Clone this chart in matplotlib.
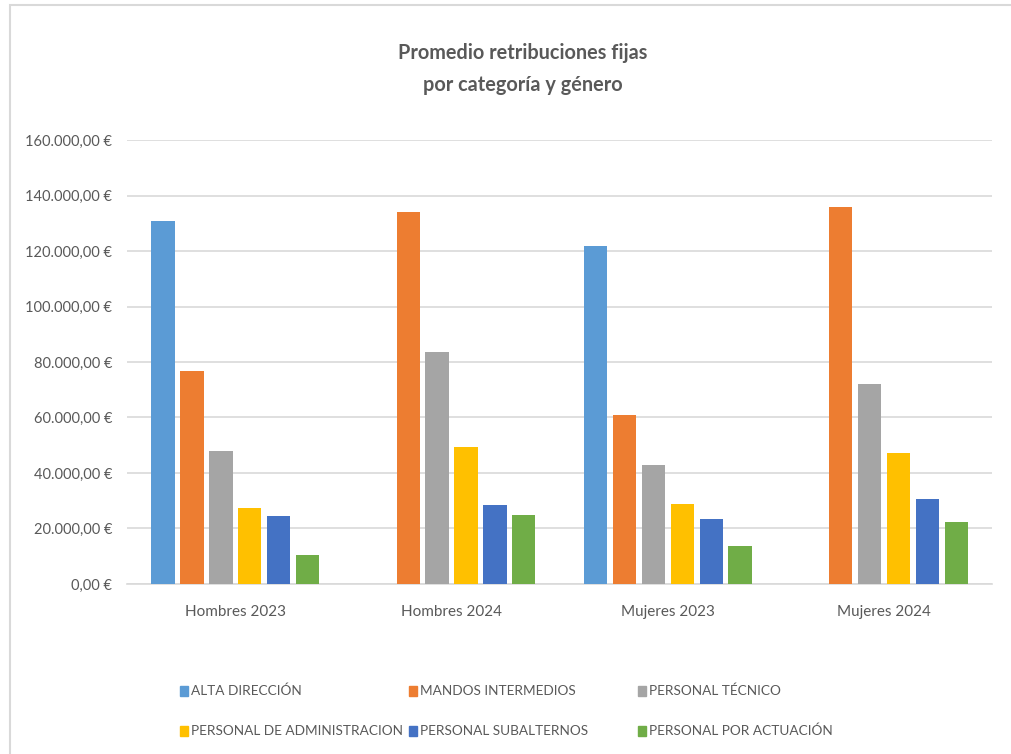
import numpy as np
import matplotlib
matplotlib.use("Agg")
import matplotlib.pyplot as plt
from matplotlib.ticker import FuncFormatter
from matplotlib.patches import Rectangle

plt.rcParams['font.family'] = ['Lato', 'DejaVu Sans']

grupos = ["Hombres 2023", "Hombres 2024", "Mujeres 2023", "Mujeres 2024"]
categorias = ["ALTA DIRECCIÓN", "MANDOS INTERMEDIOS", "PERSONAL TÉCNICO",
              "PERSONAL DE ADMINISTRACION", "PERSONAL SUBALTERNOS",
              "PERSONAL POR ACTUACIÓN"]
colores = ["#5B9BD5", "#ED7D31", "#A5A5A5", "#FFC000", "#4472C4", "#70AD47"]

# valores por categoria (nan = sin dato)
alta_direccion = [130800, np.nan, 121800, np.nan]
mandos_intermedios = [76800, 134100, 60900, 135900]
personal_tecnico = [47900, 83600, 42900, 72100]
personal_admin = [27500, 49400, 28800, 47200]
personal_subalternos = [24500, 28500, 23400, 30600]
personal_actuacion = [10500, 24900, 13700, 22300]

series = [alta_direccion, mandos_intermedios, personal_tecnico,
          personal_admin, personal_subalternos, personal_actuacion]

fig = plt.figure(figsize=(10.11, 7.54), dpi=100)
ax = fig.add_axes([0.126, 0.2255, 0.855, 0.5888])

x = np.arange(len(grupos))
paso = 0.134
ancho = 0.107
for i, (vals, col, nom) in enumerate(zip(series, colores, categorias)):
    ax.bar(x + (i - 2.5) * paso, vals, ancho, color=col, label=nom, zorder=3)

ax.set_xlim(-0.5, 3.5)
ax.set_ylim(0, 160000)
ax.set_yticks(np.arange(0, 160001, 20000))
ax.yaxis.set_major_formatter(FuncFormatter(
    lambda v, p: f"{v:,.2f}".replace(",", "X").replace(".", ",").replace("X", ".") + " €"))
ax.set_xticks(x)
ax.set_xticklabels(grupos)
ax.grid(axis='y', color='#D9D9D9', linewidth=1.2, zorder=0)
for s in ['top', 'right', 'left']:
    ax.spines[s].set_visible(False)
ax.spines['bottom'].set_color('#D9D9D9')
ax.spines['bottom'].set_linewidth(1.2)
ax.tick_params(axis='both', length=0, labelsize=11, colors='#595959')
ax.tick_params(axis='y', labelsize=10.5, pad=11)
ax.tick_params(axis='x', pad=15)

fig.text(0.517, 0.909, "Promedio retribuciones fijas\npor categoría y género",
         ha='center', va='center', fontsize=14.3, fontweight='bold',
         color='#595959', linespacing=1.75)

# leyenda manual con columnas de igual ancho, como en Excel
for i, (col, nom) in enumerate(zip(colores, categorias)):
    cx = 0.178 + (i % 3) * 0.2265
    cy = 1 - (691 + (i // 3) * 40) / 754
    fig.patches.append(Rectangle((cx, cy - 0.0065), 0.0075, 0.013,
                                 transform=fig.transFigure, color=col))
    fig.text(cx + 0.0105, cy, nom, ha='left', va='center', fontsize=9.8,
             color='#595959')

fig.patches.append(Rectangle((0.01, -0.01), 1.0, 1.003, transform=fig.transFigure,
                             fill=False, edgecolor='#D9D9D9', linewidth=1.5))

fig.savefig("out.png", dpi=100)
